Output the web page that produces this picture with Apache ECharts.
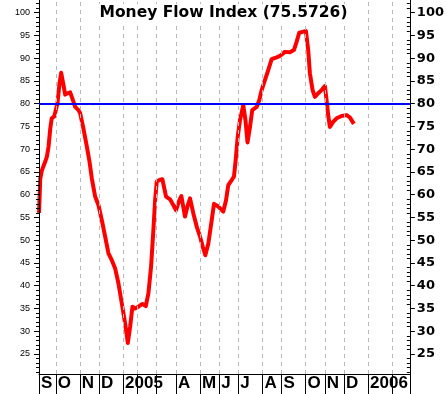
<!DOCTYPE html>
<html>
<head>
<meta charset="utf-8">
<script src="https://cdn.jsdelivr.net/npm/echarts@6.0.0/dist/echarts.min.js"></script>
<style>
html,body{margin:0;padding:0;background:#fff;}
#chart{width:447px;height:394px;}
</style>
</head>
<body>
<div id="chart"></div>
<script>
// x position in weeks, counted from the first week of October 2004
var weeks = [-3.5, -3.24, -2.89, -2.2, -1.85, -1.52, -1.16, -0.85, -0.33, 0.08,
  0.35, 0.77, 1.12, 1.6, 1.95, 2.43, 2.99, 3.56, 4.03, 4.72,
  5.07, 5.76, 6.47, 7.01, 7.51, 8.19, 8.88, 9.58, 10.27, 10.96,
  11.66, 12.35, 13.04, 13.74, 14.43, 14.99, 15.47, 15.95, 16.51, 17.19,
  18.02, 18.73, 19.27, 19.83, 20.31, 20.67, 21.02, 21.7, 22.18, 22.95,
  23.78, 24.47, 25.03, 25.72, 26.13, 26.9, 27.42, 27.94, 28.63, 29.33,
  30.02, 30.58, 31.12, 31.75, 32.45, 32.93, 33.83, 34.86, 35.43, 35.9,
  36.61, 37.09, 37.44, 37.86, 38.34, 39.02, 39.48, 39.9, 40.42, 40.89,
  41.81, 42.35, 42.85, 43.53, 44.22, 44.93, 45.97, 46.65, 47.69, 48.73,
  49.56, 50.12, 50.67, 51.37, 52.06, 52.54, 52.89, 53.45, 53.93, 54.62,
  55.32, 56.01, 56.36, 56.7, 57.05, 57.73, 58.44, 59.48, 60.52, 61.21, 62.04];

var mfi = [56.0, 63.5, 65.4, 67.3, 68.4, 70.5, 74.5, 76.8, 77.2, 77.5,
  80.1, 84.5, 86.8, 84.1, 82.0, 82.3, 82.5, 80.8, 79.3, 78.6,
  77.9, 74.5, 70.5, 67.3, 63.5, 59.6, 57.7, 54.4, 50.8, 47.1,
  45.6, 43.8, 40.5, 36.1, 31.7, 27.4, 31.0, 35.4, 35.0, 35.4,
  36.0, 35.5, 38.3, 44.2, 52.2, 58.8, 62.9, 63.3, 63.4, 59.6,
  59.0, 57.7, 56.6, 58.8, 59.7, 55.2, 57.5, 59.2, 55.9, 53.0,
  50.8, 48.6, 46.7, 49.3, 54.4, 58.0, 57.4, 56.3, 58.8, 62.1,
  63.2, 64.0, 67.6, 72.7, 76.4, 79.7, 76.4, 71.5, 74.9, 78.6,
  79.3, 80.8, 83.0, 85.2, 87.4, 89.8, 90.2, 90.5, 91.4, 91.3,
  91.8, 93.6, 95.6, 95.8, 96.0, 91.8, 86.7, 83.0, 81.5, 82.3,
  83.0, 83.9, 80.8, 77.5, 74.9, 76.0, 76.8, 77.3, 77.5, 77.0, 75.57];

// month boundaries (weeks) -> dashed gridlines
var monthWeeks = [0, 5, 9, 14, 17, 21, 25, 30, 34, 38, 43, 47, 52, 56, 60, 65, 70];
// month labels and their positions
var labelWeeks = [-3.5, 0, 5, 9, 14, 25, 30, 34, 38, 43, 47, 52, 56, 60, 65];
var monthLabels = ['S', 'O', 'N', 'D', '2005', 'A', 'M', 'J', 'J', 'A', 'S', 'O', 'N', 'D', '2006'];

var xMin = -3.5, xMax = 73.7;
var yMin = 20.6, yMax = 102.8;
var yMajor = [25, 30, 35, 40, 45, 50, 55, 60, 65, 70, 75, 80, 85, 90, 95, 100];
var yMinor = [];
for (var v = 21; v <= 102; v++) { if (v % 5 !== 0) yMinor.push(v); }
var threshold = 80;
var titleText = 'Money Flow Index (75.5726)';

var xTicks = [xMin].concat(monthWeeks, [xMax]);
var seriesData = weeks.map(function (w, i) { return [w, mfi[i]]; });

var chart = echarts.init(document.getElementById('chart'), null, {renderer: 'canvas'});
var black = {color: '#000', width: 1};

function yAxisDef(pos, major) {
  var a = {
    type: 'value', position: pos, min: yMin, max: yMax, z: 4,
    splitLine: {show: false},
    axisLine: {show: true, onZero: false, lineStyle: black},
    axisTick: {show: true, customValues: major ? yMajor : yMinor,
      length: major ? 5 : 3, inside: (!major && pos === 'right'), lineStyle: black},
    axisLabel: {show: false}
  };
  if (major) {
    a.axisLabel = pos === 'left'
      ? {show: true, customValues: yMajor, color: '#000', fontFamily: 'Liberation Sans', fontSize: 9, margin: 9}
      : {show: true, customValues: yMajor, color: '#000', fontFamily: 'DejaVu Sans', fontWeight: 'bold', fontSize: 13, margin: 7};
  }
  return a;
}

chart.setOption({
  animation: false,
  backgroundColor: '#fff',
  title: {
    text: titleText, left: 'center', top: 4,
    padding: [1, 2],
    backgroundColor: '#fff',
    textStyle: {fontFamily: 'DejaVu Sans', fontWeight: 'bold', fontSize: 15.5, color: '#000'}
  },
  grid: {left: 39, right: 37, top: 0, bottom: 20, containLabel: false},
  xAxis: {
    type: 'value', min: xMin, max: xMax,
    splitLine: {show: false},
    axisLine: {show: true, onZero: false, lineStyle: black},
    axisTick: {show: true, customValues: xTicks, length: 20, lineStyle: black},
    axisLabel: {
      show: true, customValues: labelWeeks, align: 'left', padding: [0, 0, 0, 2], margin: 1,
      color: '#000', fontFamily: 'Liberation Sans', fontWeight: 'bold', fontSize: 17,
      formatter: function (val) {
        var i = labelWeeks.indexOf(val);
        return i >= 0 ? monthLabels[i] : '';
      }
    }
  },
  yAxis: [yAxisDef('left', true), yAxisDef('left', false), yAxisDef('right', true), yAxisDef('right', false)],
  series: [
    {
      name: 'grid', type: 'line', data: [], z: 1, silent: true,
      markLine: {
        silent: true, symbol: ['none', 'none'], label: {show: false},
        lineStyle: {color: '#b8b8b8', width: 1, type: [4, 4]},
        data: monthWeeks.map(function (w) { return {xAxis: w}; })
      }
    },
    {
      name: 'threshold', type: 'line', data: [], z: 2, silent: true,
      markLine: {
        silent: true, symbol: ['none', 'none'], label: {show: false},
        lineStyle: {color: '#0000ff', width: 2, type: 'solid'},
        data: [{yAxis: threshold}]
      }
    },
    {
      name: 'MFI', type: 'line', data: seriesData, z: 3,
      showSymbol: false, symbol: 'none',
      lineStyle: {color: '#ff0000', width: 4, join: 'round'}
    }
  ]
});
</script>
</body>
</html>
